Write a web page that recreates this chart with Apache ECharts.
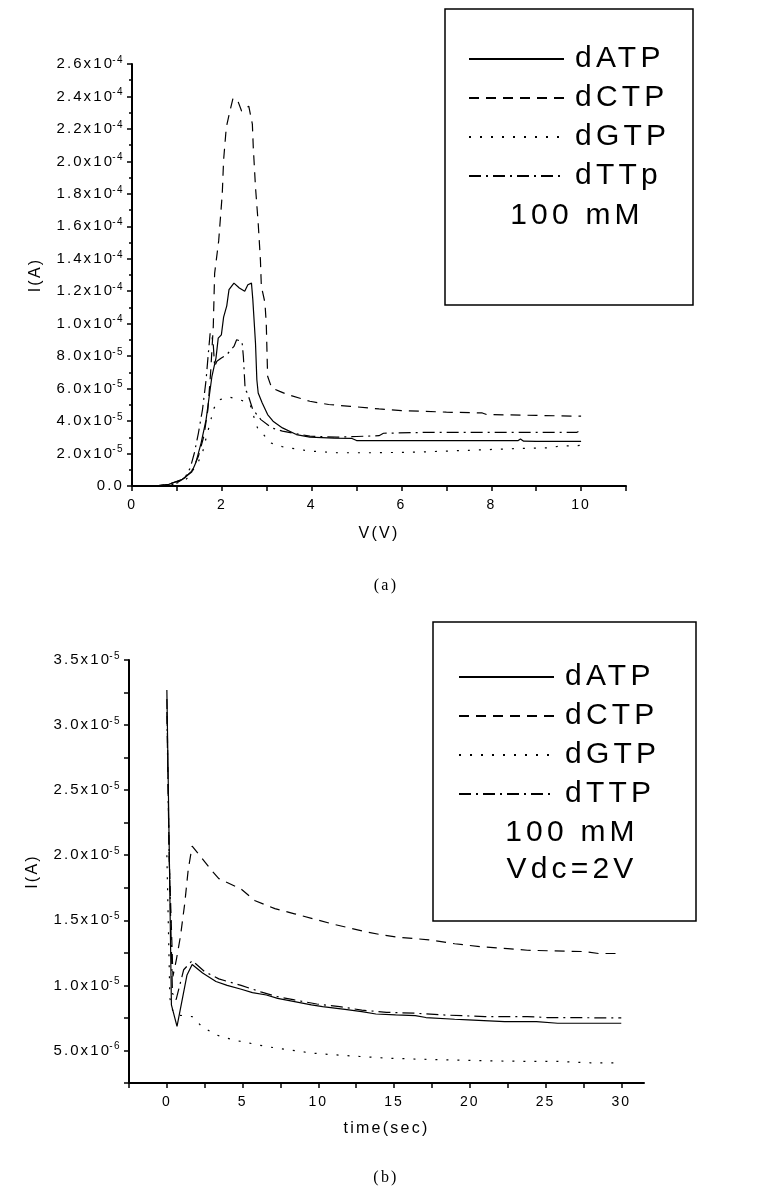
<!doctype html>
<html lang="en">
<head>
<meta charset="UTF-8">
<title>dNTP current curves</title>
<script src="https://cdn.jsdelivr.net/npm/echarts@6/dist/echarts.min.js"></script>
<style>
html, body { margin: 0; padding: 0; background: #fff; }
#main { width: 772px; height: 1194px; }
</style>
</head>
<body>
<div id="main"></div>
<script>
// ---- (a) I-V curves, I in units of 1e-5 A ----
var vATP = [0.5, 0.82, 1.12, 1.33, 1.42, 1.54, 1.65, 1.72, 1.78, 1.87, 1.92, 1.99, 2.04, 2.11, 2.16, 2.27, 2.39, 2.51, 2.58, 2.66, 2.69, 2.75, 2.78, 2.81, 2.90, 3.02, 3.14, 3.35, 3.66, 3.96, 4.5, 4.9, 5.0, 6, 7, 8, 8.6, 8.65, 8.72, 9, 10];
var iATP = [0, 0.1, 0.41, 0.86, 1.43, 2.66, 4.09, 5.53, 6.76, 7.88, 9.11, 9.31, 10.4, 11.1, 12.1, 12.5, 12.2, 12.0, 12.4, 12.5, 11.5, 8.8, 6.55, 5.73, 5.12, 4.40, 3.99, 3.58, 3.17, 3.01, 2.95, 2.93, 2.8, 2.8, 2.8, 2.8, 2.8, 2.9, 2.76, 2.75, 2.75];

var vCTP = [0.5, 0.79, 1.12, 1.33, 1.48, 1.60, 1.69, 1.75, 1.81, 1.84, 1.93, 2.01, 2.04, 2.10, 2.18, 2.25, 2.36, 2.44, 2.60, 2.68, 2.70, 2.75, 2.81, 2.86, 2.88, 2.96, 2.99, 3.02, 3.11, 3.29, 3.47, 3.96, 4.38, 4.86, 5.5, 6, 7, 7.8, 7.9, 9, 10];
var iCTP = [0, 0.1, 0.37, 0.92, 1.84, 3.07, 4.71, 6.96, 9.83, 13.1, 15.1, 18.0, 20.1, 22.1, 23.1, 23.9, 23.7, 23.1, 23.4, 22.3, 20.9, 18.4, 16.2, 13.9, 12.3, 11.3, 10.0, 6.76, 6.04, 5.83, 5.63, 5.22, 5.02, 4.91, 4.75, 4.65, 4.55, 4.5, 4.4, 4.35, 4.3];

var vGTP = [0.5, 0.88, 1.18, 1.45, 1.57, 1.66, 1.75, 1.81, 1.89, 1.96, 2.15, 2.33, 2.51, 2.63, 2.69, 2.75, 2.81, 2.93, 3.08, 3.35, 3.96, 4.56, 5.5, 6.5, 7.5, 8.5, 9.3, 9.5, 10];
var iGTP = [0, 0.1, 0.31, 1.33, 2.05, 3.07, 3.99, 4.71, 5.12, 5.32, 5.49, 5.36, 5.22, 5.02, 4.50, 3.89, 3.48, 3.17, 2.66, 2.42, 2.15, 2.05, 2.05, 2.1, 2.2, 2.3, 2.35, 2.45, 2.5];

var vTTp = [0.5, 0.94, 1.18, 1.30, 1.39, 1.48, 1.57, 1.65, 1.70, 1.74, 1.78, 1.81, 1.84, 1.89, 1.99, 2.11, 2.27, 2.33, 2.45, 2.48, 2.52, 2.57, 2.69, 2.87, 3.11, 3.35, 3.96, 4.56, 5.0, 5.5, 5.6, 6.5, 8, 9.9, 10];
var iTTp = [0, 0.1, 0.51, 1.13, 2.05, 3.28, 4.71, 6.55, 8.19, 9.42, 9.21, 8.70, 7.37, 7.68, 7.88, 8.09, 8.60, 9.01, 8.90, 7.98, 5.94, 5.73, 4.71, 4.09, 3.58, 3.38, 3.07, 3.01, 3.05, 3.1, 3.25, 3.3, 3.3, 3.3, 3.45];

// ---- (b) I-t curves at Vdc = 2 V, I in units of 1e-6 A ----
var tATP = [0, 0.15, 0.3, 0.67, 1.33, 1.67, 2.36, 3.24, 3.98, 4.91, 5.65, 6.57, 7.31, 8.43, 9.54, 10.28, 11.76, 12.87, 13.8, 15.1, 16.4, 17.1, 19.0, 19.9, 22.3, 24.4, 25.8, 30];
var jATP = [32.7, 21, 8.5, 6.85, 10.8, 11.6, 10.95, 10.3, 10.0, 9.7, 9.44, 9.26, 9.0, 8.75, 8.5, 8.37, 8.16, 7.98, 7.8, 7.73, 7.68, 7.53, 7.4, 7.35, 7.22, 7.22, 7.09, 7.09];

var tCTP = [0, 0.15, 0.4, 0.63, 0.9, 1.18, 1.41, 1.67, 2.36, 2.9, 3.43, 4.9, 5.83, 7.13, 8.43, 9.72, 11.0, 12.1, 13.2, 14.35, 15.3, 17.3, 19.0, 20.8, 22.5, 23.8, 25.5, 27.5, 28.5, 30];
var jCTP = [32, 20, 10.7, 12.0, 13.8, 16.3, 18.9, 20.7, 19.7, 18.9, 18.2, 17.4, 16.5, 15.9, 15.5, 15.1, 14.7, 14.4, 14.1, 13.85, 13.7, 13.5, 13.2, 12.96, 12.83, 12.7, 12.65, 12.6, 12.45, 12.45];

var tGTP = [0, 0.2, 0.4, 0.65, 1.67, 2.31, 3.24, 4.35, 5.46, 6.57, 8.06, 9.54, 11.0, 12.7, 14.5, 16.4, 18.2, 21.0, 23.8, 25.8, 28, 30];
var jGTP = [20, 9, 8.0, 7.73, 7.6, 6.84, 6.2, 5.82, 5.56, 5.3, 5.05, 4.8, 4.67, 4.54, 4.41, 4.34, 4.29, 4.21, 4.16, 4.16, 4.05, 4.05];

var tTTP = [0, 0.15, 0.37, 0.61, 1.11, 1.67, 2.5, 3.43, 4.9, 6.2, 7.31, 8.43, 9.9, 11.4, 12.87, 14.5, 16.4, 18.2, 21.0, 23.8, 25.1, 30];
var jTTP = [31, 20, 9.39, 8.9, 11.2, 11.9, 11.05, 10.5, 10.0, 9.5, 9.13, 8.88, 8.57, 8.37, 8.1, 7.93, 7.86, 7.73, 7.6, 7.6, 7.53, 7.5];

// tick labels
var xTicksA = [0, 2, 4, 6, 8, 10];
var xTicksB = [-2.5, 0, 2.5, 5, 7.5, 10, 12.5, 15, 17.5, 20, 22.5, 25, 27.5, 30];
var xLabelsB = [0, 5, 10, 15, 20, 25, 30];
var yTicksB = [2.5e-6, 5e-6, 7.5e-6, 1e-5, 1.25e-5, 1.5e-5, 1.75e-5, 2e-5, 2.25e-5, 2.5e-5, 2.75e-5, 3e-5, 3.25e-5, 3.5e-5];
var yLabelsB = [5e-6, 1e-5, 1.5e-5, 2e-5, 2.5e-5, 3e-5, 3.5e-5];

var namesA = ['dATP', 'dCTP', 'dGTP', 'dTTp'];
var namesB = ['dATP', 'dCTP', 'dGTP', 'dTTP'];

var FONT = 'Liberation Sans, Arial, sans-serif';
var dashes = ['solid', [10, 7], [2, 9], [12, 5, 2, 5]];

// the original figure has wide character spacing: add it to every canvas text
(function () {
    var proto = CanvasRenderingContext2D.prototype;
    var fill = proto.fillText;
    proto.fillText = function (t, x, y, w) {
        if ('letterSpacing' in this) {
            var m = /(\d+(?:\.\d+)?)px/.exec(this.font);
            this.letterSpacing = m ? (parseFloat(m[1]) * 0.14).toFixed(2) + 'px' : '0px';
        }
        return w === undefined ? fill.call(this, t, x, y) : fill.call(this, t, x, y, w);
    };
})();

function pairs(xs, ys, unit) {
    return xs.map(function (x, k) { return [x, ys[k] * unit]; });
}

// 2.6x10^-4 style labels
function sciLabel(v) {
    if (Math.abs(v) < 1e-12) return '{m|0.0}';
    var e = Math.floor(Math.log10(v) + 1e-9);
    var m = (v / Math.pow(10, e)).toFixed(1);
    return '{m|' + m + 'x10}{e|' + e + '}';
}

var sciRich = {
    m: { fontSize: 15, fontFamily: FONT, color: '#000', lineHeight: 18 },
    e: { fontSize: 10, fontFamily: FONT, color: '#000', lineHeight: 10, verticalAlign: 'top', padding: [0, 0, 0, 1] }
};

function line(name, data, k, grid) {
    return {
        name: name, type: 'line', data: data,
        xAxisIndex: grid, yAxisIndex: grid,
        symbol: 'none', showSymbol: false, animation: false,
        lineStyle: { color: '#000', width: 1.2, type: dashes[k] },
        itemStyle: { color: '#000' }
    };
}

var axisBase = {
    axisLine: { onZero: false, lineStyle: { color: '#000', width: 2 } },
    axisTick: { lineStyle: { color: '#000', width: 1.5 }, length: 5 },
    splitLine: { show: false },
    nameTextStyle: { fontSize: 16, fontFamily: FONT, color: '#000' }
};

function ax(extra) { return echarts.util.merge(echarts.util.clone(axisBase), extra, true); }

var legendBase = {
    orient: 'vertical', itemWidth: 95, itemHeight: 14, itemGap: 9, padding: 0,
    selectedMode: false,
    itemStyle: { opacity: 0 },
    textStyle: { fontSize: 30, fontFamily: FONT, color: '#000', padding: [0, 0, 0, 6] }
};

var chart = echarts.init(document.getElementById('main'));
chart.setOption({
    animation: false,
    color: ['#000'],
    grid: [
        { left: 132, right: 146, top: 64, bottom: 708 },
        { left: 129, right: 128, top: 660, bottom: 111 }
    ],
    xAxis: [
        ax({
            gridIndex: 0, type: 'value', min: 0, max: 11, interval: 1,
            name: 'V(V)', nameLocation: 'middle', nameGap: 40,
            axisLabel: {
                fontSize: 14, fontFamily: FONT, color: '#000', margin: 12,
                formatter: function (v) { return xTicksA.indexOf(v) >= 0 ? String(v) : ''; }
            }
        }),
        ax({
            gridIndex: 1, type: 'value', min: -2.5, max: 31.5, interval: 2.5,
            name: 'time(sec)', nameLocation: 'middle', nameGap: 38,
            axisTick: { customValues: xTicksB },
            axisLabel: {
                fontSize: 14, fontFamily: FONT, color: '#000', margin: 12,
                customValues: xLabelsB,
                formatter: function (v) { return xLabelsB.indexOf(v) >= 0 ? String(v) : ''; }
            }
        })
    ],
    yAxis: [
        ax({
            gridIndex: 0, type: 'value', min: 0, max: 2.6e-4, interval: 2e-5,
            name: 'I(A)', nameLocation: 'middle', nameGap: 88,
            minorTick: { show: true, splitNumber: 2, length: 3, lineStyle: { color: '#000', width: 1.5 } },
            axisLabel: { margin: 8, formatter: sciLabel, rich: sciRich }
        }),
        ax({
            gridIndex: 1, type: 'value', min: 2.5e-6, max: 3.5e-5, interval: 2.5e-6,
            name: 'I(A)', nameLocation: 'middle', nameGap: 88,
            axisTick: { customValues: yTicksB },
            axisLabel: {
                margin: 8, customValues: yLabelsB, rich: sciRich,
                formatter: function (v) {
                    for (var k = 0; k < yLabelsB.length; k++) {
                        if (Math.abs(v - yLabelsB[k]) < 1e-9) return sciLabel(v);
                    }
                    return '';
                }
            }
        })
    ],
    legend: [
        echarts.util.merge({ data: namesA, left: 468, top: 44 }, echarts.util.clone(legendBase)),
        echarts.util.merge({ data: namesB, left: 458, top: 662 }, echarts.util.clone(legendBase))
    ],
    graphic: [
        { type: 'rect', shape: { x: 445, y: 9, width: 248, height: 296 }, style: { fill: 'transparent', stroke: '#000', lineWidth: 1.5 } },
        { type: 'text', x: 577, y: 216, style: { text: '100 mM', font: '30px ' + FONT, fill: '#000', textAlign: 'center', textVerticalAlign: 'middle' } },
        { type: 'rect', shape: { x: 433, y: 622, width: 263, height: 299 }, style: { fill: 'transparent', stroke: '#000', lineWidth: 1.5 } },
        { type: 'text', x: 572, y: 833, style: { text: '100 mM', font: '30px ' + FONT, fill: '#000', textAlign: 'center', textVerticalAlign: 'middle' } },
        { type: 'text', x: 572, y: 870, style: { text: 'Vdc=2V', font: '30px ' + FONT, fill: '#000', textAlign: 'center', textVerticalAlign: 'middle' } },
        { type: 'text', x: 386, y: 586, style: { text: '(a)', font: '16px Liberation Serif, Times New Roman, serif', fill: '#000', textAlign: 'center', textVerticalAlign: 'middle' } },
        { type: 'text', x: 386, y: 1178, style: { text: '(b)', font: '16px Liberation Serif, Times New Roman, serif', fill: '#000', textAlign: 'center', textVerticalAlign: 'middle' } }
    ],
    series: [
        line(namesA[0], pairs(vATP, iATP, 1e-5), 0, 0),
        line(namesA[1], pairs(vCTP, iCTP, 1e-5), 1, 0),
        line(namesA[2], pairs(vGTP, iGTP, 1e-5), 2, 0),
        line(namesA[3], pairs(vTTp, iTTp, 1e-5), 3, 0),
        line(namesB[0], pairs(tATP, jATP, 1e-6), 0, 1),
        line(namesB[1], pairs(tCTP, jCTP, 1e-6), 1, 1),
        line(namesB[2], pairs(tGTP, jGTP, 1e-6), 2, 1),
        line(namesB[3], pairs(tTTP, jTTP, 1e-6), 3, 1)
    ]
});
</script>
</body>
</html>
